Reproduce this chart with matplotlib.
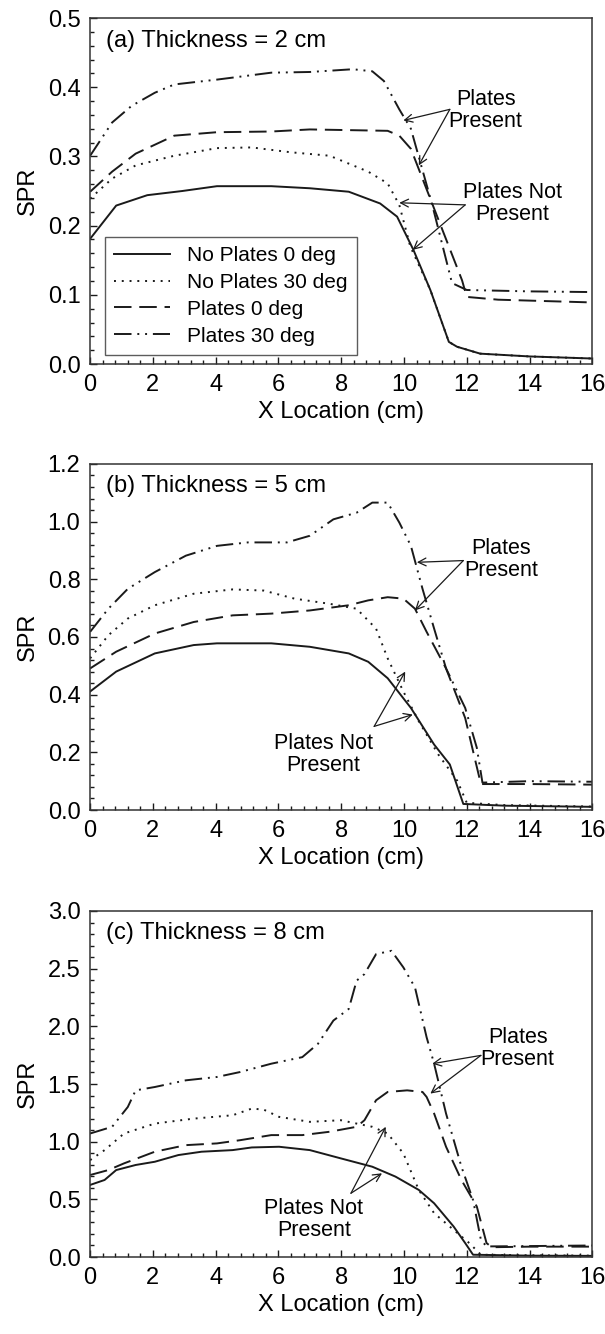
import numpy as np
import matplotlib.pyplot as plt
from matplotlib.ticker import MultipleLocator

plt.rcParams['font.family'] = ['Liberation Sans', 'DejaVu Sans']

# ---- panel (a) thickness = 2 cm ----
a_np0_x = [0, 0.83, 1.82, 2.93, 4.04, 5.77, 7.0, 8.24, 9.24, 9.78, 10.3, 10.84, 11.43, 11.69, 12.43, 14.0, 16.0]
a_np0_y = [0.181, 0.229, 0.244, 0.25, 0.257, 0.257, 0.254, 0.249, 0.232, 0.213, 0.165, 0.107, 0.032, 0.025, 0.015, 0.011, 0.008]
a_np30_x = [0, 0.70, 1.45, 2.68, 4.04, 5.15, 6.39, 7.63, 8.86, 9.48, 9.85, 10.2, 10.84, 11.43, 11.69, 12.43, 14.0, 16.0]
a_np30_y = [0.239, 0.268, 0.287, 0.301, 0.312, 0.313, 0.306, 0.301, 0.278, 0.261, 0.230, 0.17, 0.107, 0.032, 0.025, 0.015, 0.011, 0.008]
a_p0_x = [0, 0.70, 1.45, 2.68, 4.04, 5.77, 7.0, 9.48, 9.85, 10.22, 11.0, 11.85, 12.0, 13.0, 16.0]
a_p0_y = [0.249, 0.278, 0.304, 0.330, 0.335, 0.336, 0.339, 0.337, 0.330, 0.311, 0.22, 0.121, 0.097, 0.093, 0.089]
a_p30_x = [0, 0.70, 1.32, 2.06, 2.68, 4.04, 5.77, 7.0, 8.37, 8.99, 9.36, 9.85, 10.22, 10.9, 11.53, 12.0, 14.0, 16.0]
a_p30_y = [0.301, 0.349, 0.373, 0.392, 0.404, 0.411, 0.421, 0.422, 0.426, 0.423, 0.409, 0.368, 0.340, 0.23, 0.117, 0.107, 0.105, 0.104]

# ---- panel (b) thickness = 5 cm ----
b_np0_x = [0, 0.83, 2.06, 3.3, 4.04, 5.77, 7.0, 8.24, 8.86, 9.48, 10.22, 10.96, 11.46, 11.89, 13.2, 16.0]
b_np0_y = [0.411, 0.48, 0.543, 0.572, 0.578, 0.578, 0.566, 0.543, 0.514, 0.457, 0.354, 0.227, 0.158, 0.021, 0.015, 0.011]
b_np30_x = [0, 0.58, 1.2, 2.06, 3.3, 4.54, 5.53, 6.51, 7.63, 8.49, 9.11, 9.48, 9.98, 10.47, 11.09, 11.7, 12.0, 13.2, 16.0]
b_np30_y = [0.526, 0.606, 0.664, 0.71, 0.75, 0.765, 0.761, 0.733, 0.715, 0.698, 0.629, 0.526, 0.411, 0.308, 0.193, 0.101, 0.025, 0.017, 0.012]
b_p0_x = [0, 0.83, 2.06, 3.3, 4.54, 5.77, 7.0, 8.24, 8.86, 9.48, 9.98, 10.35, 10.72, 11.34, 11.95, 12.45, 14.0, 16.0]
b_p0_y = [0.491, 0.549, 0.612, 0.652, 0.675, 0.681, 0.692, 0.71, 0.727, 0.738, 0.733, 0.698, 0.618, 0.491, 0.319, 0.09, 0.09, 0.088]
b_p30_x = [0, 0.58, 1.2, 2.06, 3.05, 4.04, 5.03, 6.27, 7.0, 7.75, 8.49, 8.99, 9.48, 9.85, 10.22, 10.59, 10.96, 11.34, 11.95, 12.32, 12.5, 14.0, 16.0]
b_p30_y = [0.618, 0.698, 0.767, 0.825, 0.882, 0.916, 0.928, 0.928, 0.951, 1.008, 1.031, 1.066, 1.066, 0.997, 0.916, 0.767, 0.629, 0.491, 0.354, 0.216, 0.095, 0.1, 0.098]

# ---- panel (c) thickness = 8 cm ----
c_np0_x = [0, 0.46, 0.83, 1.45, 2.06, 2.81, 3.55, 4.54, 5.15, 6.02, 7.0, 7.99, 8.99, 9.73, 10.47, 10.96, 11.58, 11.95, 12.2, 14.0, 16.0]
c_np0_y = [0.625, 0.668, 0.754, 0.798, 0.826, 0.884, 0.913, 0.927, 0.95, 0.956, 0.927, 0.855, 0.783, 0.697, 0.582, 0.466, 0.265, 0.121, 0.02, 0.012, 0.01]
c_np30_x = [0, 0.46, 1.08, 2.06, 3.3, 4.54, 5.15, 5.53, 6.02, 7.0, 7.99, 8.49, 8.99, 9.48, 9.98, 10.47, 10.96, 11.58, 12.08, 12.45, 14.0, 16.0]
c_np30_y = [0.84, 0.927, 1.071, 1.157, 1.2, 1.229, 1.287, 1.278, 1.215, 1.172, 1.186, 1.157, 1.129, 1.071, 0.898, 0.582, 0.38, 0.236, 0.121, 0.02, 0.015, 0.012]
c_p0_x = [0, 0.58, 1.08, 2.06, 3.05, 4.04, 4.78, 5.77, 6.76, 7.63, 8.49, 8.74, 9.11, 9.48, 10.1, 10.59, 10.72, 10.96, 11.34, 11.83, 12.32, 12.63, 12.8, 14.0, 16.0]
c_p0_y = [0.711, 0.754, 0.812, 0.913, 0.97, 0.985, 1.013, 1.057, 1.057, 1.086, 1.129, 1.186, 1.359, 1.431, 1.445, 1.431, 1.388, 1.244, 0.956, 0.668, 0.438, 0.121, 0.085, 0.09, 0.09]
c_p30_x = [0, 0.7, 1.2, 1.45, 2.06, 3.05, 4.04, 4.78, 5.77, 6.76, 7.26, 7.75, 8.24, 8.49, 8.74, 9.11, 9.6, 9.98, 10.35, 10.72, 10.96, 11.34, 11.83, 12.2, 12.45, 12.63, 14.0, 16.0]
c_p30_y = [1.071, 1.129, 1.301, 1.445, 1.474, 1.532, 1.561, 1.604, 1.676, 1.733, 1.849, 2.05, 2.151, 2.396, 2.453, 2.626, 2.655, 2.511, 2.338, 1.906, 1.676, 1.244, 0.783, 0.495, 0.15, 0.092, 0.095, 0.1]

labels = ['No Plates 0 deg', 'No Plates 30 deg', 'Plates 0 deg', 'Plates 30 deg']
styles = ['-', (0, (1, 3)), (0, (9, 4)), (0, (9, 3, 1, 3, 1, 3))]

panels = [
    {'title': '(a) Thickness = 2 cm', 'ymax': 0.5, 'ymaj': 0.1, 'ymin': 0.02,
     'x': [a_np0_x, a_np30_x, a_p0_x, a_p30_x], 'y': [a_np0_y, a_np30_y, a_p0_y, a_p30_y],
     'pp': ((12.6, 0.366), (11.46, 0.368), [(9.98, 0.352), (10.47, 0.287)]),
     'pnp': ((13.46, 0.232), (11.95, 0.230), [(9.85, 0.233), (10.28, 0.165)])},
    {'title': '(b) Thickness = 5 cm', 'ymax': 1.2, 'ymaj': 0.2, 'ymin': 0.04,
     'x': [b_np0_x, b_np30_x, b_p0_x, b_p30_x], 'y': [b_np0_y, b_np30_y, b_p0_y, b_p30_y],
     'pp': ((13.1, 0.868), (11.89, 0.865), [(10.41, 0.859), (10.35, 0.692)]),
     'pnp': ((7.44, 0.193), (9.05, 0.29), [(10.04, 0.48), (10.28, 0.331)])},
    {'title': '(c) Thickness = 8 cm', 'ymax': 3.0, 'ymaj': 0.5, 'ymin': 0.1,
     'x': [c_np0_x, c_np30_x, c_p0_x, c_p30_x], 'y': [c_np0_y, c_np30_y, c_p0_y, c_p30_y],
     'pp': ((13.62, 1.805), (12.45, 1.748), [(10.9, 1.676), (10.84, 1.417)]),
     'pnp': ((7.13, 0.322), (8.31, 0.553), [(9.42, 1.129), (9.3, 0.726)])},
]

fig = plt.figure(figsize=(6.05, 13.34), dpi=100)
bottoms = [0.7271, 0.3928, 0.0577]
ink = '#1a1a1a'

for i, p in enumerate(panels):
    ax = fig.add_axes([0.149, bottoms[i], 0.830, 0.2594])
    for xs, ys, ls, lab in zip(p['x'], p['y'], styles, labels):
        ax.plot(xs, ys, color=ink, linestyle=ls, linewidth=1.4, label=lab)
    ax.set_xlim(0, 16)
    ax.set_ylim(0, p['ymax'])
    ax.xaxis.set_major_locator(MultipleLocator(2))
    ax.xaxis.set_minor_locator(MultipleLocator(0.4))
    ax.yaxis.set_major_locator(MultipleLocator(p['ymaj']))
    ax.yaxis.set_minor_locator(MultipleLocator(p['ymin']))
    ax.yaxis.set_major_formatter(plt.FormatStrFormatter('%.1f'))
    ax.tick_params(which='both', direction='in', labelsize=17, color=ink, pad=7)
    ax.tick_params(which='major', length=5, width=1)
    ax.tick_params(which='minor', length=3, width=1)
    for s in ax.spines.values():
        s.set_color('#333333')
        s.set_linewidth(1.1)
    ax.set_xlabel('X Location (cm)', fontsize=17, labelpad=4)
    ax.set_ylabel('SPR', fontsize=17, labelpad=6)
    ax.text(0.032, 0.935, p['title'], transform=ax.transAxes, fontsize=17,
            va='center', ha='left')

    for key, txt in (('pp', 'Plates\nPresent'), ('pnp', 'Plates Not\nPresent')):
        tpos, origin, tips = p[key]
        ax.text(tpos[0], tpos[1], txt, fontsize=15.5, ha='center', va='center',
                linespacing=1.05)
        for tip in tips:
            ax.annotate('', xy=tip, xytext=origin,
                        arrowprops=dict(arrowstyle='->', color=ink, lw=0.9,
                                        shrinkA=0, shrinkB=0,
                                        mutation_scale=14))

    if i == 0:
        leg = ax.legend(loc='lower left', bbox_to_anchor=(0.029, 0.026), fontsize=15,
                        frameon=True, fancybox=False, edgecolor='#333333',
                        handlelength=2.7, borderaxespad=0, labelspacing=0.38,
                        borderpad=0.45, handletextpad=0.8)
        leg.get_frame().set_linewidth(1.0)

fig.savefig('out.png', dpi=100, facecolor='white')
